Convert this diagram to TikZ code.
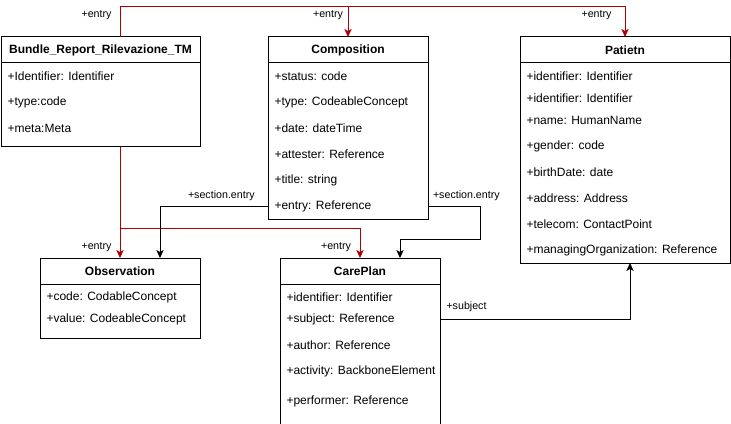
\documentclass[tikz,border=0pt]{standalone}
\usepackage{fontspec}
\setmainfont{Liberation Sans}
\usetikzlibrary{positioning,arrows.meta}
\definecolor{entryred}{HTML}{B20000}

\begin{document}
\begin{tikzpicture}
  [x=0.75pt, y=-0.75pt, line width=0.75pt,
   >={Stealth[length=6pt,width=5.5pt,inset=1.5pt]},
   classhead/.style={draw, minimum height=19.5pt, inner sep=0pt, outer sep=0pt, font=\bfseries\fontsize{9}{11}\selectfont},
   classbody/.style={draw, inner sep=0pt, outer sep=0pt},
   attrib/.style={anchor=west, inner sep=0pt, font=\fontsize{9}{11}\selectfont},
   rolelabel/.style={inner sep=0pt, font=\fontsize{8}{10}\selectfont},
   entryline/.style={->, draw=entryred, color=entryred}]
  \useasboundingbox (0,0) rectangle (731,424);

  % classes
  \node[classhead, minimum width=149.25pt] (bundle) at (100.5,50) {Bundle\_Report\_Rilevazione\_TM};
  \node[classbody, minimum width=149.25pt, minimum height=63pt, below=0pt of bundle] (bundle-b) {};
  \foreach \y/\t [count=\i] in {76.7/+Identifier: Identifier, 102.3/+type:code, 128.3/+meta:Meta}
    \node[attrib] (bundle-\i) at (7,\y) {\t};

  \node[classhead, minimum width=120pt] (comp) at (348,50) {Composition};
  \node[classbody, minimum width=120pt, minimum height=117pt, below=0pt of comp] (comp-b) {};
  \foreach \y/\t [count=\i] in {76.7/+status: code, 102.3/+type: CodeableConcept, 128.3/+date: dateTime,
      154.7/+attester: Reference, 180.7/+title: string, 206.7/+entry: Reference}
    \node[attrib] (comp-\i) at (274,\y) {\t};

  \node[classhead, minimum width=157.5pt] (pat) at (625,50) {Patietn};
  \node[classbody, minimum width=157.5pt, minimum height=150pt, below=0pt of pat] (pat-b) {};
  \foreach \y/\t [count=\i] in {76.7/+identifier: Identifier, 98.3/+identifier: Identifier, 120.7/+name: HumanName,
      146.7/+gender: code, 172.7/+birthDate: date, 198.7/+address: Address,
      224.3/+telecom: ContactPoint, 250.7/+managingOrganization: Reference}
    \node[attrib] (pat-\i) at (526,\y) {\t};

  \node[classhead, minimum width=120pt] (obs) at (120,271) {Observation};
  \node[classbody, minimum width=120pt, minimum height=40.5pt, below=0pt of obs] (obs-b) {};
  \foreach \y/\t [count=\i] in {297.7/+code: CodableConcept, 319.3/+value: CodeableConcept}
    \node[attrib] (obs-\i) at (46,\y) {\t};

  \node[classhead, minimum width=120pt] (care) at (360,271) {CarePlan};
  \node[classbody, minimum width=120pt, minimum height=106pt, below=0pt of care] (care-b) {};
  \foreach \y/\t [count=\i] in {297.7/+identifier: Identifier, 319.3/+subject: Reference, 345.7/+author: Reference,
      371.7/+activity: BackboneElement, 401.7/+performer: Reference}
    \node[attrib] (care-\i) at (286,\y) {\t};

  % connectors
  \coordinate (toprail) at (0,7);
  \coordinate (midrail) at (0,228);
  \coordinate (secbend) at (480,239);
  \draw[entryline] (obs.north |- bundle.north) -- (obs.north |- toprail) -| (comp.north);
  \draw[entryline] (comp.north |- toprail) -| (pat.north);
  \draw[entryline] (obs.north |- bundle-b.south) -- (obs.north);
  \draw[entryline] (obs.north |- midrail) -| (care.north);
  \draw[->] (comp-6 -| comp-b.west) -| ([xshift=30pt]obs.north);
  \draw[->] (comp-6 -| comp-b.east) -| (secbend) -| ([xshift=30pt]care.north);
  \draw[->] (care-2 -| care-b.east) -| ([xshift=3.75pt]pat-b.south);

  % role labels
  \node[rolelabel, anchor=east] (entry-bundle) at (112,15) {+entry};
  \node[rolelabel, anchor=east] (entry-comp) at (343.5,15) {+entry};
  \node[rolelabel, anchor=east] (entry-pat) at (612,15) {+entry};
  \node[rolelabel, anchor=west] (sec-obs) at (187.5,195.3) {+section.entry};
  \node[rolelabel, anchor=west] (sec-care) at (432.5,195.3) {+section.entry};
  \node[rolelabel, anchor=east] (entry-obs) at (112,246.7) {+entry};
  \node[rolelabel, anchor=east] (entry-care) at (351.5,246.7) {+entry};
  \node[rolelabel, anchor=west] (subj) at (446,306.7) {+subject};
\end{tikzpicture}
\end{document}
